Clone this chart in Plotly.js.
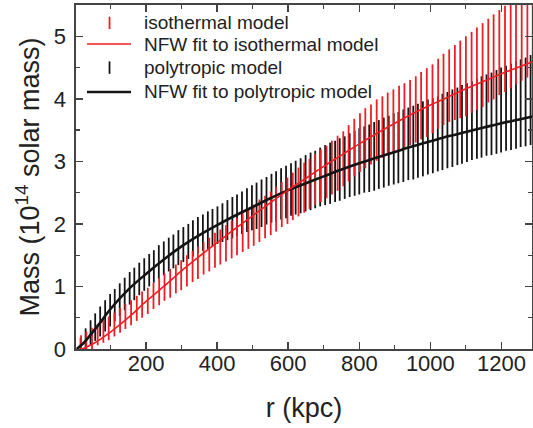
<!DOCTYPE html>
<html>
<head>
<meta charset="utf-8">
<script src="https://cdn.plot.ly/plotly-3.0.1.min.js"></script>
<style>html,body{margin:0;padding:0;background:#fff;}#chart{width:533px;height:428px;}</style>
</head>
<body>
<div id="chart"></div>
<script>
// isothermal model (red error bars)
var isoR = [17,32,48,64,80,95,111,127,142,158,174,189,205,221,237,252,268,284,299,315,331,346,362,378,394,409,425,441,456,472,488,503,519,535,551,566,582,598,613,629,645,660,676,692,708,723,739,755,770,786,802,817,833,849,865,880,896,912,927,943,959,974,990,1006,1022,1037,1053,1069,1084,1100,1116,1131,1147,1163,1178,1194,1210,1226,1241,1257,1273,1288];
var isoM = [0.07,0.12,0.17,0.23,0.28,0.33,0.39,0.46,0.52,0.58,0.65,0.71,0.77,0.85,0.92,0.99,1.05,1.12,1.18,1.25,1.32,1.38,1.45,1.51,1.58,1.63,1.69,1.75,1.8,1.86,1.92,1.98,2.05,2.11,2.17,2.24,2.31,2.37,2.44,2.51,2.58,2.64,2.71,2.77,2.83,2.9,2.97,3.04,3.13,3.22,3.3,3.37,3.43,3.5,3.55,3.6,3.65,3.7,3.74,3.78,3.83,3.89,3.94,4.0,4.08,4.15,4.21,4.26,4.31,4.36,4.42,4.48,4.54,4.61,4.67,4.74,4.8,4.87,4.94,5.01,5.07,5.13];
var isoErr = [0.15,0.16,0.17,0.17,0.18,0.19,0.19,0.2,0.2,0.2,0.2,0.21,0.21,0.21,0.22,0.22,0.23,0.23,0.24,0.25,0.25,0.26,0.26,0.27,0.28,0.28,0.29,0.3,0.3,0.31,0.32,0.33,0.34,0.34,0.35,0.36,0.36,0.37,0.38,0.39,0.4,0.4,0.41,0.42,0.42,0.43,0.44,0.44,0.45,0.46,0.47,0.48,0.48,0.49,0.49,0.5,0.5,0.51,0.51,0.52,0.53,0.54,0.55,0.55,0.56,0.57,0.58,0.6,0.62,0.64,0.65,0.66,0.67,0.67,0.68,0.68,0.69,0.7,0.71,0.72,0.73,0.74];

// polytropic model (black error bars)
var polyR = [16,30,44,57,71,85,99,112,126,140,154,167,181,195,209,222,236,250,264,277,291,305,319,332,346,360,374,387,401,415,429,443,456,470,484,498,511,525,539,553,566,580,594,608,621,635,649,663,676,690,704,718,732,745,759,773,787,800,814,828,842,855,869,883,897,910,924,938,952,965,979,993,1007,1021,1034,1048,1062,1076,1089,1103,1117,1131,1144,1158,1172,1186,1199,1213,1227,1241,1254,1268,1282];
var polyM = [0.06,0.16,0.26,0.35,0.44,0.53,0.62,0.7,0.79,0.88,0.97,1.04,1.12,1.19,1.26,1.32,1.39,1.45,1.51,1.56,1.62,1.67,1.72,1.77,1.82,1.86,1.9,1.94,1.98,2.02,2.06,2.1,2.14,2.18,2.22,2.26,2.29,2.33,2.37,2.41,2.44,2.48,2.51,2.55,2.58,2.61,2.65,2.68,2.71,2.75,2.78,2.81,2.84,2.87,2.9,2.94,2.97,3.0,3.03,3.05,3.08,3.11,3.14,3.17,3.2,3.22,3.25,3.28,3.3,3.33,3.36,3.39,3.41,3.44,3.47,3.5,3.53,3.56,3.59,3.62,3.65,3.68,3.71,3.74,3.76,3.79,3.82,3.85,3.87,3.9,3.93,3.95,3.98];
var polyErr = [0.12,0.17,0.2,0.22,0.24,0.25,0.26,0.26,0.26,0.26,0.26,0.26,0.26,0.26,0.26,0.26,0.27,0.27,0.27,0.27,0.28,0.28,0.28,0.29,0.29,0.29,0.3,0.3,0.3,0.31,0.32,0.33,0.33,0.34,0.35,0.36,0.37,0.38,0.38,0.39,0.4,0.41,0.42,0.42,0.43,0.44,0.45,0.46,0.46,0.47,0.48,0.49,0.49,0.5,0.5,0.51,0.52,0.53,0.53,0.54,0.55,0.55,0.56,0.56,0.57,0.57,0.58,0.58,0.59,0.59,0.6,0.6,0.6,0.6,0.61,0.61,0.62,0.62,0.63,0.63,0.63,0.64,0.65,0.65,0.66,0.67,0.68,0.68,0.69,0.7,0.7,0.71,0.72];

// NFW fits
var fitIsoR = [20,50,100,150,200,250,300,350,400,450,500,550,600,650,700,750,800,850,900,950,1000,1050,1100,1150,1200,1250,1290];
var fitIsoM = [0,0.08,0.27,0.5,0.76,1.0,1.25,1.48,1.7,1.92,2.13,2.34,2.54,2.73,2.92,3.1,3.28,3.45,3.61,3.76,3.9,4.03,4.16,4.28,4.4,4.51,4.6];
var fitPolyR = [5,25,50,75,100,150,200,250,300,350,400,450,500,550,600,650,700,750,800,850,900,950,1000,1050,1100,1150,1200,1250,1290];
var fitPolyM = [0,0.1,0.27,0.45,0.64,0.95,1.2,1.43,1.64,1.82,1.98,2.13,2.27,2.41,2.54,2.65,2.76,2.87,2.97,3.06,3.15,3.24,3.32,3.4,3.47,3.54,3.61,3.67,3.72];

var legendNames = ['isothermal model','NFW fit to isothermal model','polytropic model','NFW fit to polytropic model'];

var RED = 'rgb(238,30,36)';
var BLK = 'rgb(20,20,20)';
var FONT = '"Liberation Sans", Arial, sans-serif';

var traces = [
  {x: polyR, y: polyM, type:'scatter', mode:'markers', marker:{size:1, color:'rgba(0,0,0,0)'},
   error_y:{type:'data', array: polyErr, visible:true, color:BLK, thickness:1.8, width:0}, showlegend:false, hoverinfo:'skip'},
  {x: isoR, y: isoM, type:'scatter', mode:'markers', marker:{size:1, color:'rgba(0,0,0,0)'},
   error_y:{type:'data', array: isoErr, visible:true, color:RED, thickness:1.8, width:0}, showlegend:false, hoverinfo:'skip'},
  {x: fitPolyR, y: fitPolyM, type:'scatter', mode:'lines', line:{color:BLK, width:2.6, shape:'spline'}, showlegend:false},
  {x: fitIsoR, y: fitIsoM, type:'scatter', mode:'lines', line:{color:RED, width:1.6, shape:'spline'}, showlegend:false}
];

// legend key (drawn in paper coordinates of the plot area)
var legX0 = 0.0241, legX1 = 0.1206, legXm = 0.0735, legTx = 0.1447;
var legY = [0.948, 0.8866, 0.818, 0.7471];
var shapes = [
  {type:'line', xref:'paper', yref:'paper', x0:legXm, x1:legXm, y0:legY[0]-0.018, y1:legY[0]+0.018, line:{color:RED, width:1.8}},
  {type:'line', xref:'paper', yref:'paper', x0:legX0, x1:legX1, y0:legY[1], y1:legY[1], line:{color:RED, width:1.6}},
  {type:'line', xref:'paper', yref:'paper', x0:legXm, x1:legXm, y0:legY[2]-0.018, y1:legY[2]+0.018, line:{color:BLK, width:1.8}},
  {type:'line', xref:'paper', yref:'paper', x0:legX0, x1:legX1, y0:legY[3], y1:legY[3], line:{color:BLK, width:2.6}}
];
var annotations = legendNames.map(function(t, i){
  return {text:t, xref:'paper', yref:'paper', x:legTx, y:legY[i], xanchor:'left', yanchor:'middle',
          showarrow:false, font:{family:FONT, size:19, color:'#222'}};
});

var axisCommon = {
  showline:true, linecolor:'#444', linewidth:1.6, mirror:'allticks',
  ticks:'inside', ticklen:7, tickwidth:1.4, tickcolor:'#444',
  showgrid:false, zeroline:false,
  tickfont:{family:FONT, size:22, color:'#222'}
};

var layout = {
  width:533, height:428,
  margin:{l:76, r:1, t:5, b:79},
  paper_bgcolor:'#fff', plot_bgcolor:'#fff',
  showlegend:false,
  xaxis: Object.assign({}, axisCommon, {
    range:[3,1286], dtick:200, tick0:0, ticklabelstandoff:-6,
    minor:{ticks:'inside', ticklen:4, tickwidth:1.2, tickcolor:'#444', dtick:100, showgrid:false},
    title:{text:'r (kpc)', font:{family:FONT, size:27, color:'#222'}, standoff:23}
  }),
  yaxis: Object.assign({}, axisCommon, {
    range:[0,5.5], dtick:1, tick0:0, ticklabelstandoff:4,
    minor:{ticks:'inside', ticklen:4, tickwidth:1.2, tickcolor:'#444', dtick:0.5, showgrid:false},
    title:{text:'Mass (10<sup>14</sup> solar mass)', font:{family:FONT, size:27, color:'#222'}, standoff:6}
  }),
  shapes: shapes,
  annotations: annotations
};

Plotly.newPlot('chart', traces, layout, {displayModeBar:false, staticPlot:true});
</script>
</body>
</html>
